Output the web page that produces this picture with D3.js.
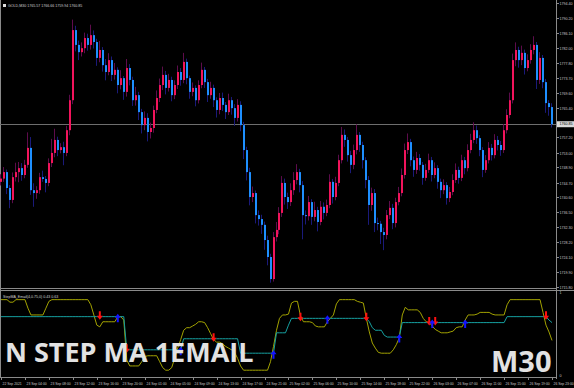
<!DOCTYPE html>
<html>
<head>
<meta charset="utf-8">
<script src="https://cdn.jsdelivr.net/npm/d3@7"></script>
<style>
  body { margin: 0; background: #000; }
  svg { display: block; }
</style>
</head>
<body>
<svg id="chart" width="574" height="388"></svg>
<script>
// GOLD M30 bars
const firstOpen = 1744.9;
const closes = [1745.8,
  1747.6,1743.2,1739.9,1746.2,1747.6,1748.7,1746.8,1749.6,1754.3,1742.6,
  1741.8,1742.6,1746.2,1745.7,1744.6,1750.1,1752.9,1756.5,1753.7,1754.5,
  1752.9,1759.2,1767.5,1786.9,1782.8,1780.8,1781.9,1784.7,1782.8,1785.5,
  1783.6,1779.2,1781.4,1777.2,1775.3,1778.6,1774.5,1775.9,1771.7,1773.6,
  1769.8,1776.4,1773.1,1767.5,1768.9,1764.2,1760.6,1762.6,1758.7,1759.8,
  1764.8,1768.1,1771.7,1774.5,1770.9,1773.1,1768.9,1771.7,1775.3,1773.1,
  1778.1,1773.6,1769.8,1770.9,1767.5,1771.7,1775.9,1772.5,1768.9,1770.9,
  1767.5,1764.8,1768.1,1766.2,1764.2,1767.5,1765.3,1762.6,1766.2,1760.6,
  1753.7,1747.6,1740.7,1741.8,1735.7,1734.6,1733.0,1728.8,1724.1,1718.0,
  1729.6,1731.6,1736.3,1744.6,1740.7,1739.3,1742.6,1745.4,1747.6,1744.0,
  1735.7,1735.4,1739.3,1735.2,1737.1,1733.8,1738.0,1736.3,1738.5,1744.9,
  1740.7,1744.6,1750.9,1757.9,1756.5,1752.3,1749.6,1753.7,1757.9,1755.1,
  1750.9,1745.4,1738.5,1741.8,1733.5,1733.3,1731.0,1730.2,1735.7,1737.7,
  1733.5,1739.3,1741.8,1746.8,1753.7,1755.9,1750.9,1748.2,1751.5,1749.6,
  1746.0,1748.2,1750.9,1746.8,1748.7,1744.9,1742.6,1744.0,1740.4,1742.1,
  1745.4,1748.2,1746.0,1750.9,1748.7,1753.7,1756.5,1759.2,1757.0,1753.7,
  1748.2,1750.9,1754.3,1752.3,1756.5,1755.1,1753.7,1759.2,1763.4,1767.5,
  1778.6,1781.4,1778.6,1780.6,1776.4,1778.6,1781.4,1782.8,1773.1,1779.2,
  1772.5,1766.7,1765.6,1760.85];
const highs = [1747.0,
  1749.0,1748.3,1744.0,1747.5,1750.2,1750.4,1750.1,1751.0,1758.6,1757.3,
  1744.5,1743.7,1747.4,1748.0,1746.5,1751.4,1756.8,1759.6,1757.4,1755.6,
  1756.0,1760.4,1769.0,1789.8,1788.1,1784.0,1783.5,1786.2,1785.9,1788.4,
  1786.8,1784.5,1783.9,1782.2,1778.9,1780.5,1779.6,1777.8,1776.6,1775.8,
  1774.2,1778.9,1777.5,1774.0,1771.2,1769.8,1765.1,1764.4,1763.9,1761.3,
  1766.0,1770.2,1773.5,1776.8,1775.6,1774.8,1774.0,1773.0,1777.1,1776.4,
  1780.6,1779.0,1774.3,1772.4,1771.6,1773.0,1777.9,1776.7,1773.4,1772.6,
  1771.8,1768.3,1769.5,1769.6,1767.0,1769.3,1768.4,1766.4,1767.8,1767.2,
  1761.5,1754.6,1748.8,1743.6,1742.5,1737.0,1735.8,1733.9,1730.0,1725.0,
  1731.0,1733.8,1737.9,1746.5,1745.8,1741.9,1744.5,1747.6,1749.8,1748.5,
  1745.1,1737.0,1741.0,1740.1,1739.4,1738.0,1739.6,1739.2,1740.0,1747.0,
  1745.7,1746.3,1752.4,1760.1,1759.4,1757.3,1753.5,1755.2,1760.8,1758.7,
  1756.0,1751.7,1746.5,1743.3,1742.9,1735.0,1734.1,1732.2,1737.1,1739.6,
  1738.8,1740.5,1743.5,1748.6,1755.5,1758.3,1756.8,1751.9,1753.2,1752.6,
  1750.4,1749.9,1752.7,1751.8,1750.3,1749.5,1745.8,1745.6,1744.8,1743.5,
  1747.0,1750.0,1749.1,1752.4,1751.8,1755.3,1758.2,1761.4,1760.5,1757.8,
  1754.5,1752.3,1755.9,1755.4,1758.1,1757.6,1756.2,1760.9,1765.0,1769.6,
  1780.4,1783.5,1782.3,1782.6,1781.5,1780.2,1783.0,1785.2,1783.6,1780.8,
  1780.0,1773.4,1767.5,1766.66];
const lows = [1743.9,
  1744.9,1741.5,1737.6,1739.0,1745.0,1744.8,1745.2,1745.9,1748.8,1741.3,
  1738.0,1740.2,1741.6,1744.9,1742.0,1743.7,1749.0,1751.7,1752.0,1752.8,
  1749.5,1752.0,1757.8,1766.4,1781.0,1778.6,1779.6,1780.5,1781.2,1781.5,
  1781.8,1777.0,1778.0,1775.4,1773.0,1774.4,1772.8,1773.2,1769.4,1770.5,
  1767.6,1768.5,1771.6,1765.9,1766.0,1762.0,1758.3,1759.2,1756.1,1756.9,
  1758.5,1763.9,1767.0,1770.3,1769.1,1769.9,1767.2,1767.8,1770.6,1771.5,
  1772.2,1771.9,1767.9,1768.6,1765.8,1766.6,1770.8,1770.9,1767.0,1767.9,
  1765.6,1762.7,1763.6,1764.5,1762.3,1763.4,1763.5,1760.4,1761.6,1758.9,
  1751.2,1745.3,1738.4,1739.3,1733.4,1732.8,1730.5,1726.1,1721.8,1717.0,
  1717.3,1728.4,1730.4,1735.2,1738.6,1737.4,1738.2,1741.3,1744.2,1742.0,
  1729.0,1733.1,1734.2,1733.0,1734.0,1731.2,1732.9,1734.5,1735.4,1737.6,
  1738.9,1739.8,1743.7,1750.0,1754.6,1750.5,1747.3,1748.4,1752.5,1753.2,
  1748.6,1743.1,1733.0,1736.9,1731.0,1731.5,1727.7,1726.0,1729.0,1734.6,
  1731.8,1732.3,1738.4,1740.9,1745.8,1752.6,1749.2,1746.3,1747.1,1748.0,
  1744.1,1745.2,1747.4,1745.0,1745.9,1743.0,1740.4,1741.5,1738.6,1739.3,
  1741.2,1744.6,1744.4,1745.1,1747.0,1747.8,1752.8,1755.6,1755.4,1752.0,
  1746.2,1747.4,1750.0,1750.8,1751.4,1753.6,1752.1,1752.9,1758.3,1762.5,
  1766.6,1776.9,1776.5,1777.2,1774.6,1775.5,1777.6,1780.2,1770.6,1772.0,
  1770.8,1764.0,1763.2,1759.94];

// StepMA_Email indicator (fast = olive, slow = teal)
const stepFast = [0.91,
  0.91,0.91,0.88,0.88,0.91,0.91,0.91,0.91,0.81,0.73,
  0.73,0.73,0.73,0.73,0.81,0.89,0.91,0.91,0.91,0.91,
  0.91,0.91,0.91,0.91,0.91,0.91,0.91,0.91,0.91,0.85,
  0.73,0.61,0.59,0.65,0.65,0.65,0.65,0.65,0.71,0.71,
  0.67,0.20,0.13,0.13,0.13,0.13,0.18,0.24,0.25,0.25,
  0.25,0.25,0.18,0.11,0.08,0.08,0.11,0.22,0.34,0.44,
  0.55,0.58,0.58,0.60,0.62,0.65,0.65,0.64,0.58,0.51,
  0.44,0.41,0.41,0.39,0.36,0.34,0.32,0.29,0.22,0.13,
  0.08,0.08,0.08,0.08,0.08,0.08,0.08,0.08,0.08,0.18,
  0.36,0.55,0.69,0.73,0.73,0.74,0.87,0.89,0.89,0.72,
  0.65,0.65,0.65,0.64,0.60,0.59,0.59,0.59,0.65,0.69,
  0.73,0.86,0.91,0.91,0.91,0.91,0.91,0.91,0.89,0.88,
  0.87,0.69,0.53,0.40,0.34,0.29,0.28,0.28,0.28,0.28,
  0.32,0.38,0.46,0.73,0.82,0.79,0.79,0.79,0.79,0.76,
  0.69,0.65,0.64,0.60,0.56,0.54,0.52,0.52,0.52,0.53,
  0.54,0.58,0.59,0.59,0.67,0.73,0.73,0.73,0.74,0.76,
  0.76,0.76,0.76,0.74,0.73,0.73,0.73,0.73,0.85,0.91,
  0.91,0.91,0.91,0.91,0.91,0.91,0.91,0.91,0.91,0.91,
  0.76,0.61,0.53,0.43];
const stepSlow = [
  0.71,0.71,0.71,0.71,0.71,0.71,0.71,0.71,0.71,0.71,
  0.71,0.71,0.71,0.71,0.71,0.71,0.71,0.71,0.71,0.71,
  0.71,0.71,0.71,0.71,0.71,0.71,0.71,0.71,0.71,0.71,
  0.71,0.71,0.71,0.71,0.71,0.71,0.71,0.71,0.71,0.71,
  0.71,0.71,0.32,0.32,0.32,0.32,0.32,0.32,0.32,0.32,
  0.32,0.32,0.32,0.32,0.32,0.32,0.32,0.32,0.32,0.32,
  0.32,0.45,0.45,0.45,0.45,0.45,0.45,0.45,0.45,0.45,
  0.45,0.45,0.45,0.45,0.45,0.45,0.45,0.45,0.45,0.45,
  0.28,0.28,0.28,0.28,0.28,0.28,0.28,0.28,0.28,0.28,
  0.28,0.28,0.52,0.52,0.52,0.52,0.61,0.69,0.69,0.69,
  0.69,0.69,0.69,0.69,0.69,0.69,0.69,0.69,0.69,0.69,
  0.69,0.69,0.69,0.69,0.69,0.69,0.69,0.69,0.69,0.69,
  0.69,0.69,0.69,0.65,0.58,0.55,0.55,0.55,0.49,0.47,
  0.47,0.47,0.47,0.47,0.64,0.64,0.64,0.64,0.64,0.64,
  0.64,0.64,0.64,0.64,0.64,0.64,0.64,0.64,0.64,0.64,
  0.64,0.64,0.64,0.64,0.64,0.64,0.64,0.64,0.64,0.64,
  0.64,0.64,0.64,0.64,0.64,0.64,0.64,0.64,0.64,0.71,
  0.71,0.71,0.71,0.71,0.71,0.71,0.71,0.71,0.71,0.71,
  0.71,0.71,0.71,0.67,0.64];
const sellBars = [33, 42, 71, 100, 122, 143, 145, 182];
const buyBars = [39, 60, 91, 109, 133, 144, 155];

const priceTicks = [1794.40,1790.20,1786.10,1782.00,1777.80,1773.70,1769.60,1765.40,1761.30,
  1757.20,1753.00,1748.90,1744.70,1740.60,1736.50,1732.30,1728.20,1724.10,1719.90,1715.80];
const timeLabels = ["22 Sep 2021","23 Sep 04:00","23 Sep 08:00","23 Sep 12:00","23 Sep 16:00",
  "23 Sep 20:00","24 Sep 01:00","24 Sep 05:00","24 Sep 09:00","24 Sep 13:00","24 Sep 17:00",
  "24 Sep 21:00","25 Sep 02:00","25 Sep 06:00","25 Sep 10:00","25 Sep 14:00","25 Sep 18:00",
  "25 Sep 22:00","26 Sep 03:00","26 Sep 07:00","26 Sep 11:00","26 Sep 15:00","26 Sep 19:00",
  "26 Sep 23:00"];
const barsPerLabel = 8;
const header = "GOLD,M30  1765.57 1766.66 1759.94 1760.85";
const indLabel = "StepMA_Email(4,0.75,0) 0.43 0.63";
const lastPrice = 1760.85;

const svg = d3.select("#chart");
const W = 574, H = 388, axisX = 556;
const mainTop = 3, mainBottom = 287, indTop = 292, indBottom = 377;
const smallFont = "'Liberation Sans', Arial, sans-serif";

svg.append("rect").attr("width", W).attr("height", H).attr("fill", "#000");

const x = d3.scaleLinear().domain([0, closes.length - 1]).range([1, 552]);
const y = d3.scaleLinear().domain([1715.8, 1794.4]).range([mainBottom, mainTop]);
const yi = d3.scaleLinear().domain([0, 1]).range([indBottom, indTop]);

const bars = closes.map((c, i) => ({
  i: i,
  o: i === 0 ? firstOpen : closes[i - 1],
  c: c, h: highs[i], l: lows[i]
}));

// frame
const frame = svg.append("g").attr("stroke", "#8a8a8a").attr("stroke-width", 1);
frame.append("line").attr("x1", axisX + 0.5).attr("x2", axisX + 0.5).attr("y1", 0).attr("y2", indBottom + 2);
frame.append("line").attr("x1", 0).attr("x2", axisX).attr("y1", 288.5).attr("y2", 288.5);
frame.append("line").attr("x1", 0).attr("x2", W).attr("y1", 290.5).attr("y2", 290.5);
frame.append("line").attr("x1", 0).attr("x2", axisX).attr("y1", indBottom + 0.5).attr("y2", indBottom + 0.5);
frame.append("line").attr("x1", 0.5).attr("x2", 0.5).attr("y1", 0).attr("y2", indBottom);

// last price line
svg.append("line")
  .attr("x1", 0).attr("x2", axisX)
  .attr("y1", Math.round(y(lastPrice)) + 0.5).attr("y2", Math.round(y(lastPrice)) + 0.5)
  .attr("stroke", "#6e6e6e");

// candles
const cg = svg.append("g");
bars.forEach(d => {
  const xc = Math.round(x(d.i));
  const up = d.c >= d.o;
  cg.append("line")
    .attr("x1", xc - 0.5).attr("x2", xc - 0.5)
    .attr("y1", y(d.h)).attr("y2", y(d.l))
    .attr("stroke", up ? "#5e0c4c" : "#1a1a7a");
  const top = y(Math.max(d.o, d.c)), bot = y(Math.min(d.o, d.c));
  cg.append("rect")
    .attr("x", xc - 1).attr("width", 2)
    .attr("y", top).attr("height", Math.max(1, bot - top))
    .attr("fill", up ? "#f2145c" : "#1e8fff");
});

// price axis
const pa = svg.append("g").attr("font-family", smallFont).attr("font-size", 3.6).attr("fill", "#c8c8c8");
priceTicks.forEach(p => {
  const yy = Math.round(y(p)) + 0.5;
  pa.append("line").attr("x1", axisX).attr("x2", axisX + 3).attr("y1", yy).attr("y2", yy).attr("stroke", "#8a8a8a");
  if (Math.abs(y(p) - y(lastPrice)) > 4)
    pa.append("text").attr("x", axisX + 3.5).attr("y", yy).attr("dy", "0.35em").text(p.toFixed(2));
});
const ly = y(lastPrice);
svg.append("rect").attr("x", axisX + 1).attr("y", ly - 3).attr("width", W - axisX - 1).attr("height", 6).attr("fill", "#d9d9d9");
svg.append("text").attr("x", axisX + 3.5).attr("y", ly).attr("dy", "0.35em")
  .attr("font-family", smallFont).attr("font-size", 3.6).attr("fill", "#000").text(lastPrice.toFixed(2));

// indicator axis
[1, 0].forEach(v => {
  svg.append("text").attr("x", axisX + 3.5).attr("y", yi(v) + (v === 1 ? 1 : -1)).attr("dy", "0.35em")
    .attr("font-family", smallFont).attr("font-size", 3.6).attr("fill", "#c8c8c8").text(v);
});

// indicator lines
const lineFast = d3.line().x((d, i) => x(i)).y(d => yi(d)).curve(d3.curveLinear);
svg.append("path").datum(stepFast).attr("d", lineFast).attr("fill", "none").attr("stroke", "#a3a300").attr("stroke-width", 1);
svg.append("path").datum(stepSlow).attr("d", lineFast).attr("fill", "none").attr("stroke", "#16a0a0").attr("stroke-width", 1);

// arrows
const downArrow = "M-1,-4.5 L1,-4.5 L1,0 L3,0 L0,4 L-3,0 L-1,0 Z";
const upArrow = "M-1,4.5 L1,4.5 L1,0 L3,0 L0,-4 L-3,0 L-1,0 Z";
sellBars.forEach(i => {
  svg.append("path").attr("d", downArrow)
    .attr("transform", "translate(" + x(i) + "," + (yi(stepSlow[i]) - 1) + ")")
    .attr("fill", "#ff1010");
});
buyBars.forEach(i => {
  svg.append("path").attr("d", upArrow)
    .attr("transform", "translate(" + x(i) + "," + (yi(stepSlow[i]) + 1) + ")")
    .attr("fill", "#1414ff");
});

// time axis
const ta = svg.append("g").attr("font-family", smallFont).attr("font-size", 3.4).attr("fill", "#c8c8c8");
timeLabels.forEach((t, j) => {
  const xx = Math.round(x(j * barsPerLabel)) + 0.5;
  ta.append("line").attr("x1", xx).attr("x2", xx).attr("y1", indBottom).attr("y2", indBottom + 3).attr("stroke", "#8a8a8a");
  ta.append("text").attr("x", xx + 1).attr("y", 385).text(t);
});

// header labels
svg.append("rect").attr("x", 3).attr("y", 4).attr("width", 3).attr("height", 3).attr("fill", "#dcdcdc");
svg.append("text").attr("x", 8).attr("y", 7.3)
  .attr("font-family", smallFont).attr("font-size", 3.6).attr("fill", "#d0d0d0").text(header);
svg.append("text").attr("x", 3).attr("y", 297.5)
  .attr("font-family", smallFont).attr("font-size", 3.6).attr("fill", "#d0d0d0").text(indLabel);

// watermark titles
svg.append("text").attr("x", 5).attr("y", 362)
  .attr("font-family", "'Open Sans', sans-serif").attr("font-weight", "bold").attr("font-size", 27)
  .attr("fill", "#e2e2e2").text("N STEP MA 1EMAIL");
svg.append("text").attr("x", 491).attr("y", 372)
  .attr("font-family", "'Open Sans', sans-serif").attr("font-weight", "bold").attr("font-size", 29)
  .attr("fill", "#e2e2e2").text("M30");
</script>
</body>
</html>
